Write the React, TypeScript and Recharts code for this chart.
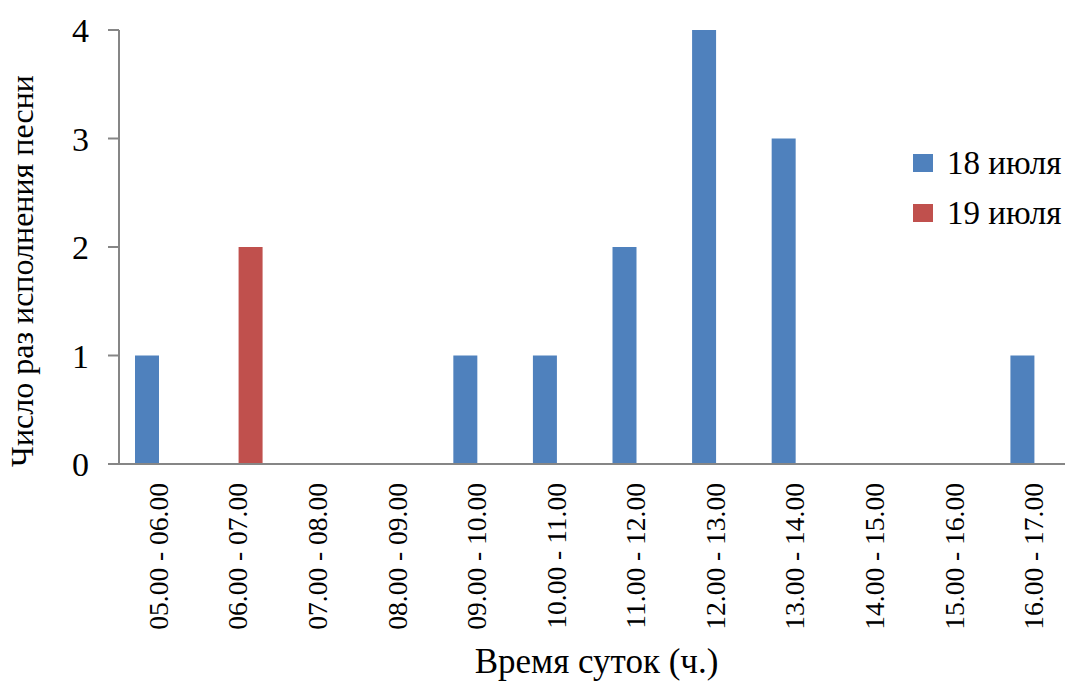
import { BarChart, Bar, XAxis, YAxis, Legend, Label } from "recharts";

const categories = [
  "05.00 - 06.00", "06.00 - 07.00", "07.00 - 08.00", "08.00 - 09.00",
  "09.00 - 10.00", "10.00 - 11.00", "11.00 - 12.00", "12.00 - 13.00",
  "13.00 - 14.00", "14.00 - 15.00", "15.00 - 16.00", "16.00 - 17.00",
];
const july18 = [1, 0, 0, 0, 1, 1, 2, 4, 3, 0, 0, 1];
const july19 = [0, 2, 0, 0, 0, 0, 0, 0, 0, 0, 0, 0];
const yTicks = [0, 1, 2, 3, 4];

const data = categories.map((name, i) => ({
  name,
  d18: july18[i],
  d19: july19[i],
}));
// tick marks sit between categories, like in Excel
const boundaries = [...categories.map((_, i) => i), categories.length];

const FONT = '"Liberation Serif", "Times New Roman", serif';
const AXIS = "#868686";

const XTick = (props: any) => {
  const { x, y, payload } = props;
  return (
    <text
      x={x + 9}
      y={y + 12}
      transform={`rotate(-90, ${x + 9}, ${y + 12})`}
      textAnchor="end"
      fontFamily={FONT}
      fontSize={27.5}
      fill="#000"
    >
      {payload.value}
    </text>
  );
};

const LegendBox = (props: any) => (
  <div style={{ fontFamily: FONT, fontSize: 33, color: "#000" }}>
    {props.payload.map((p: any) => (
      <div key={p.value} style={{ display: "flex", alignItems: "center", height: 50 }}>
        <span style={{ width: 20, height: 18, background: p.color, marginRight: 14 }} />
        {p.value}
      </div>
    ))}
  </div>
);

export default function App() {
  return (
    <div style={{ position: "absolute", left: 0, top: 0, width: 1065, height: 681, overflow: "hidden", background: "#fff" }}>
      <BarChart
        width={1080}
        height={681}
        data={data}
        margin={{ top: 30, right: 6, bottom: 0, left: 0 }}
        barGap={0}
        barSize={24}
      >
        <XAxis
          xAxisId="a"
          type="number"
          domain={[0, categories.length]}
          allowDataOverflow
          ticks={boundaries}
          tick={false}
          tickSize={7}
          height={7}
          axisLine={{ stroke: AXIS, strokeWidth: 2 }}
          tickLine={{ stroke: AXIS, strokeWidth: 2 }}
        />
        <XAxis
          xAxisId="b"
          dataKey="name"
          interval={0}
          axisLine={false}
          tickLine={false}
          tickSize={0}
          tickMargin={0}
          height={210}
          tick={<XTick />}
        >
          <Label
            value="Время суток (ч.)"
            position="insideBottom"
            offset={8}
            style={{ fontFamily: FONT, fontSize: 35, fill: "#000" }}
          />
        </XAxis>
        <YAxis
          width={119}
          domain={[0, 4]}
          ticks={yTicks}
          interval={0}
          tickSize={11}
          tickMargin={19}
          axisLine={{ stroke: AXIS, strokeWidth: 2 }}
          tickLine={{ stroke: AXIS, strokeWidth: 2 }}
          tick={{ fontFamily: FONT, fontSize: 34, fill: "#000" }}
        >
          <Label
            value="Число раз исполнения  песни"
            angle={-90}
            position="insideLeft"
            offset={22}
            dy={24}
            style={{ fontFamily: FONT, fontSize: 32, fill: "#000", textAnchor: "middle", whiteSpace: "pre" }}
          />
        </YAxis>
        <Legend
          layout="vertical"
          verticalAlign="middle"
          align="center"
          content={<LegendBox />}
          wrapperStyle={{ left: 913, top: 138, width: 160 }}
        />
        <Bar xAxisId="b" dataKey="d18" name="18 июля" fill="#4F81BD" isAnimationActive={false} />
        <Bar xAxisId="b" dataKey="d19" name="19 июля" fill="#C0504D" isAnimationActive={false} />
      </BarChart>
    </div>
  );
}
